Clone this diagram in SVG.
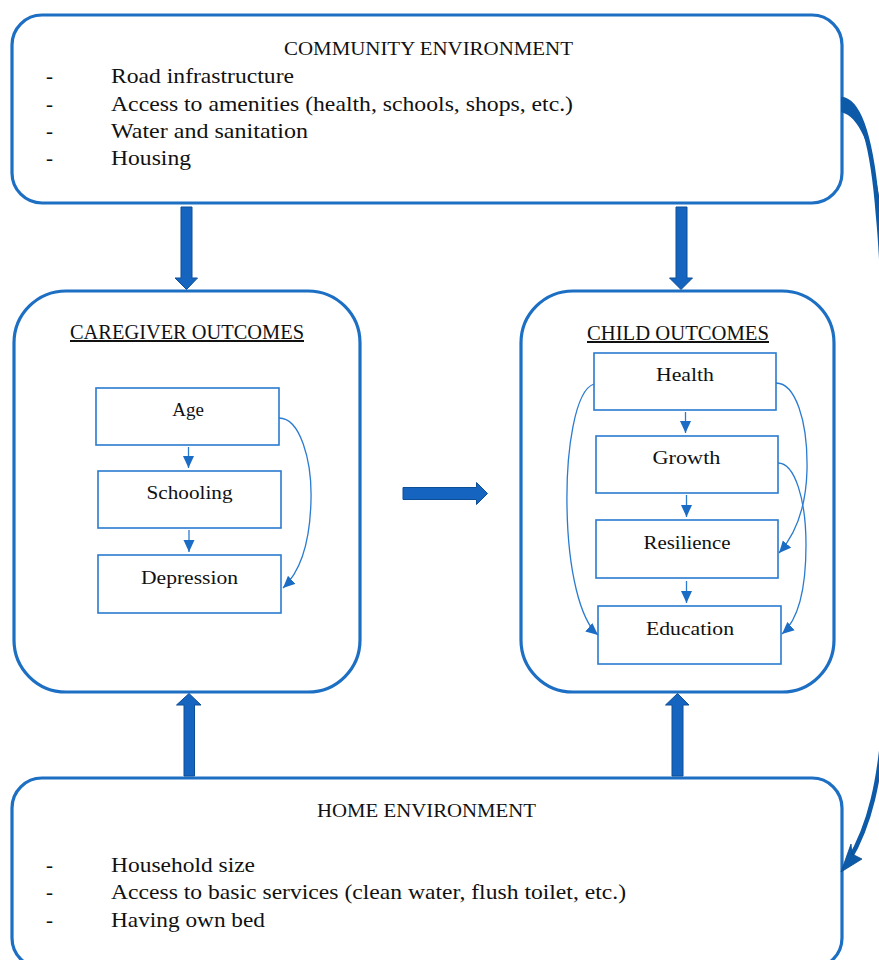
<svg xmlns="http://www.w3.org/2000/svg" width="879" height="960" viewBox="0 0 879 960">
<style>
.big{fill:#fff;stroke:#1d6fc3;stroke-width:3.2}
.inner{fill:#fff;stroke:#2a7bd0;stroke-width:1.6}
.t{font-family:"Liberation Serif","Times New Roman",serif;fill:#111}
.title{font-size:19px}
.item{font-size:21px}
.sub{font-size:20px}
.lbl{font-size:19px;text-anchor:middle}
.thin{fill:none;stroke:#2a7bd0;stroke-width:1.3}
.fat{fill:#1565c0;stroke:#0d4f96;stroke-width:1}
</style>
<defs>
<marker id="ah" markerUnits="userSpaceOnUse" markerWidth="13" markerHeight="12" refX="12" refY="6" orient="auto">
<path d="M0,0.5 L12,6 L0,11.5 z" fill="#1b6cc4"/>
</marker>
</defs>

<g id="community">
<rect class="big" x="12" y="15" width="830" height="188" rx="30"/>
<text class="t title" x="284" y="55" textLength="289" lengthAdjust="spacingAndGlyphs">COMMUNITY ENVIRONMENT</text>
<text class="t item" x="46" y="83">-</text>
<text class="t item" x="111" y="83" textLength="183" lengthAdjust="spacingAndGlyphs">Road infrastructure</text>
<text class="t item" x="46" y="111">-</text>
<text class="t item" x="111" y="111" textLength="462" lengthAdjust="spacingAndGlyphs">Access to amenities (health, schools, shops, etc.)</text>
<text class="t item" x="46" y="138">-</text>
<text class="t item" x="111" y="138" textLength="197" lengthAdjust="spacingAndGlyphs">Water and sanitation</text>
<text class="t item" x="46" y="165">-</text>
<text class="t item" x="111" y="165" textLength="80" lengthAdjust="spacingAndGlyphs">Housing</text>
</g>

<g id="caregiver">
<rect class="big" x="14" y="291" width="346" height="401" rx="52"/>
<text class="t sub" x="70" y="339" textLength="234" lengthAdjust="spacingAndGlyphs" text-decoration="underline">CAREGIVER OUTCOMES</text>
</g>
<g id="age">
<rect class="inner" x="96" y="388" width="183" height="57"/>
<text class="t lbl" x="188" y="416">Age</text>
</g>
<g id="schooling">
<rect class="inner" x="98" y="471" width="183" height="57"/>
<text class="t lbl" x="189.5" y="499" textLength="86" lengthAdjust="spacingAndGlyphs">Schooling</text>
</g>
<g id="depression">
<rect class="inner" x="98" y="555" width="183" height="58"/>
<text class="t lbl" x="189.5" y="584" textLength="97" lengthAdjust="spacingAndGlyphs">Depression</text>
</g>

<g id="child">
<rect class="big" x="521" y="291" width="313" height="401" rx="52"/>
<text class="t sub" x="587" y="340" textLength="182" lengthAdjust="spacingAndGlyphs" text-decoration="underline">CHILD OUTCOMES</text>
</g>
<g id="health">
<rect class="inner" x="594" y="353" width="182" height="57"/>
<text class="t lbl" x="685" y="381" textLength="58" lengthAdjust="spacingAndGlyphs">Health</text>
</g>
<g id="growth">
<rect class="inner" x="596" y="436" width="182" height="57"/>
<text class="t lbl" x="686.5" y="464" textLength="68" lengthAdjust="spacingAndGlyphs">Growth</text>
</g>
<g id="resilience">
<rect class="inner" x="596" y="520" width="182" height="58"/>
<text class="t lbl" x="687" y="549" textLength="87" lengthAdjust="spacingAndGlyphs">Resilience</text>
</g>
<g id="education">
<rect class="inner" x="598" y="606" width="183" height="58"/>
<text class="t lbl" x="690" y="635" textLength="88" lengthAdjust="spacingAndGlyphs">Education</text>
</g>

<g id="home">
<rect class="big" x="12" y="778" width="830" height="190" rx="30"/>
<text class="t title" x="317" y="817" textLength="219" lengthAdjust="spacingAndGlyphs">HOME ENVIRONMENT</text>
<text class="t item" x="46" y="872">-</text>
<text class="t item" x="111" y="872" textLength="144" lengthAdjust="spacingAndGlyphs">Household size</text>
<text class="t item" x="46" y="899">-</text>
<text class="t item" x="111" y="899" textLength="515" lengthAdjust="spacingAndGlyphs">Access to basic services (clean water, flush toilet, etc.)</text>
<text class="t item" x="46" y="927">-</text>
<text class="t item" x="111" y="927" textLength="154" lengthAdjust="spacingAndGlyphs">Having own bed</text>
</g>

<g id="connectors">
<polygon class="fat" points="181,207 192,207 192,278 197.5,278 186.5,289.5 175,278 181,278"/>
<polygon class="fat" points="676,207 687,207 687,278 692.5,278 681,289.5 669.5,278 676,278"/>
<polygon class="fat" points="184,776 194.5,776 194.5,705 201,705 189,693.5 176.5,705 184,705"/>
<polygon class="fat" points="672,776 683,776 683,705 689,705 677.5,693.5 665.5,705 672,705"/>
<polygon class="fat" points="403,487.5 476.5,487.5 476.5,482.5 487.5,493.5 476.5,504.5 476.5,499.5 403,499.5"/>

<line class="thin" x1="188.5" y1="447" x2="188.5" y2="468" marker-end="url(#ah)"/>
<line class="thin" x1="189" y1="530" x2="189" y2="552" marker-end="url(#ah)"/>
<line class="thin" x1="685.5" y1="412" x2="685.5" y2="433" marker-end="url(#ah)"/>
<line class="thin" x1="686.5" y1="495" x2="686.5" y2="517" marker-end="url(#ah)"/>
<line class="thin" x1="686.5" y1="581" x2="686.5" y2="603" marker-end="url(#ah)"/>

<path class="thin" d="M279,418 C300,418 312,460 311,500 C310,545 299,573 283,588" marker-end="url(#ah)"/>
<path class="thin" d="M594,384 C575,390 566,450 567,507 C568,570 580,620 598,635" marker-end="url(#ah)"/>
<path class="thin" d="M776,383 C795,383 808,420 807,470 C806,510 795,535 779,553" marker-end="url(#ah)"/>
<path class="thin" d="M778,463 C795,463 806,500 806,545 C806,590 798,620 782,634" marker-end="url(#ah)"/>

<path d="M841,99 C862,100 872,150 879,215 L879,290 L885,290 L885,240 C876,160 864,118 841,112 Z" fill="#0d5aa8"/>
<path d="M841,99 C862,100 873,150 878,215 C881,245 882,270 883,300 L890,500 L884,720 C880,780 870,825 849,860" fill="none" stroke="#0d5aa8" stroke-width="4.5"/>
<polygon points="841,872 851,844 852,854 862,859" fill="#0d5aa8" stroke="#0a4a8c" stroke-width="0.8"/>
</g>
</svg>
